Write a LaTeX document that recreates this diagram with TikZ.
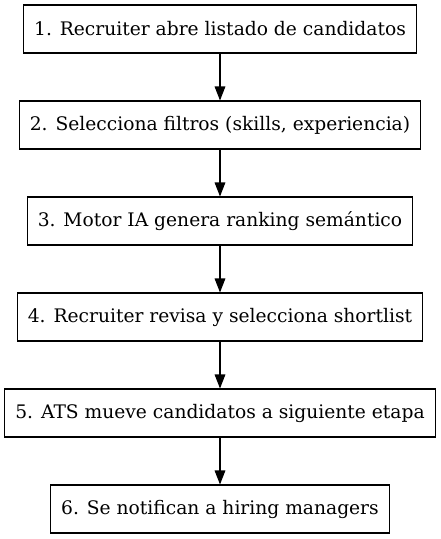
\documentclass[tikz,border=0pt]{standalone}
\usepackage{fontspec}
\setmainfont{DejaVu Serif}
\usetikzlibrary{arrows.meta}

\begin{document}
\begin{tikzpicture}[x=0.75pt,y=-0.75pt,-latex, arrows={-Triangle[length=10.5pt,width=8pt]},
	stepbox/.style={draw,minimum height=36pt,inner xsep=8pt,font=\fontsize{14pt}{17pt}\selectfont},
	every path/.style={line width=0.8pt}]
	\useasboundingbox (0,0) rectangle (441,539);
	\node[stepbox] (P1) at (220,29) {1. Recruiter abre listado de candidatos};
	\node[stepbox] (P2) at (220,125) {2. Selecciona filtros (skills, experiencia)};
	\node[stepbox] (P3) at (220,221) {3. Motor IA genera ranking semántico};
	\node[stepbox] (P4) at (220,317) {4. Recruiter revisa y selecciona shortlist};
	\node[stepbox] (P5) at (220,413) {5. ATS mueve candidatos a siguiente etapa};
	\node[stepbox] (P6) at (220,509) {6. Se notifican a hiring managers};

	\draw (P1) to (P2);
	\draw (P2) to (P3);
	\draw (P3) to (P4);
	\draw (P4) to (P5);
	\draw (P5) to (P6);
\end{tikzpicture}
\end{document}
